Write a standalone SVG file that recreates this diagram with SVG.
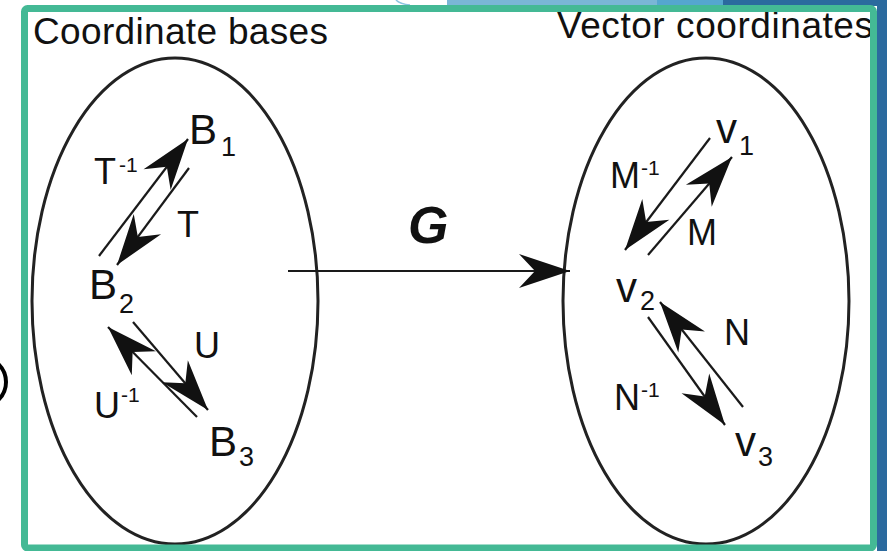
<svg xmlns="http://www.w3.org/2000/svg" width="887" height="551" viewBox="0 0 887 551">
  <style>
    .lbl { font-family: "Liberation Sans", Arial, sans-serif; fill: #111; }
    .big { font-size: 42px; }
    .sub { font-size: 27px; }
    .op { font-size: 36px; }
    .sup { font-size: 21px; }
    .title { font-size: 37px; }
    .set { fill: none; stroke: #222; stroke-width: 3; }
    .conn { stroke: #1a1a1a; stroke-width: 2.2; fill: none; marker-end: url(#ah); }
  </style>
  <defs>
    <marker id="ah" markerUnits="userSpaceOnUse" viewBox="-54 -20 56 40" refX="0" refY="0" markerWidth="56" markerHeight="40" orient="auto">
      <path d="M0,0 L-51,-17 L-35,0 L-51,17 Z" fill="#111"/>
    </marker>
  </defs>
  <!-- background -->
  <rect x="0" y="0" width="887" height="551" fill="#ffffff"/>
  <g id="backdrop">
    <rect x="447" y="0" width="210" height="6" fill="#7ab6d6"/>
    <rect x="657" y="0" width="66" height="6" fill="#55a6cf"/>
    <rect x="723" y="0" width="164" height="6" fill="#2b6a9e"/>
    <rect x="877" y="0" width="10" height="551" fill="#2b6a9e"/>
    <path d="M396,0 Q400,4 410,5" fill="none" stroke="#8cc3e0" stroke-width="1.5"/>
    <circle cx="-19" cy="382" r="25" fill="none" stroke="#000" stroke-width="4"/>
  </g>
  <!-- sets -->
  <g id="set-bases">
    <ellipse class="set" cx="175" cy="301" rx="143" ry="243"/>
    <text class="lbl title" x="33" y="44" textLength="295" lengthAdjust="spacing">Coordinate bases</text>
  </g>
  <g id="set-vectors">
    <ellipse class="set" cx="706" cy="301" rx="143" ry="243"/>
    <text class="lbl title" x="557" y="38" textLength="316" lengthAdjust="spacing">Vector coordinates</text>
  </g>
  <!-- nodes -->
  <g id="B1"><text class="lbl big" x="189" y="144">B</text><text class="lbl sub" x="221" y="156">1</text></g>
  <g id="B2"><text class="lbl big" x="89" y="299">B</text><text class="lbl sub" x="119" y="313">2</text></g>
  <g id="B3"><text class="lbl big" x="209" y="456">B</text><text class="lbl sub" x="239" y="466">3</text></g>
  <g id="v1"><text class="lbl big" x="716" y="143">v</text><text class="lbl sub" x="739" y="155">1</text></g>
  <g id="v2"><text class="lbl big" x="616" y="302">v</text><text class="lbl sub" x="640" y="310">2</text></g>
  <g id="v3"><text class="lbl big" x="735" y="456">v</text><text class="lbl sub" x="758" y="466">3</text></g>
  <!-- connectors -->
  <g id="connectors">
    <line class="conn" x1="99" y1="256" x2="188" y2="139"/>
    <line class="conn" x1="189" y1="168" x2="117" y2="265"/>
    <line class="conn" x1="197" y1="417" x2="108" y2="327"/>
    <line class="conn" x1="133" y1="322" x2="208" y2="410"/>
    <line class="conn" x1="710" y1="138" x2="625" y2="250"/>
    <line class="conn" x1="648" y1="255" x2="732" y2="157"/>
    <line class="conn" x1="743" y1="407" x2="660" y2="302"/>
    <line class="conn" x1="648" y1="317" x2="725" y2="425"/>
    <line class="conn" x1="288" y1="271" x2="570" y2="271"/>
  </g>
  <g id="connector-labels">
    <text class="lbl op" x="94" y="184">T</text><text class="lbl sup" x="119" y="172">-1</text>
    <text class="lbl op" x="177" y="237">T</text>
    <text class="lbl op" x="194" y="358">U</text>
    <text class="lbl op" x="94" y="418">U</text><text class="lbl sup" x="121" y="402">-1</text>
    <text class="lbl op" x="610" y="188">M</text><text class="lbl sup" x="641" y="175">-1</text>
    <text class="lbl op" x="687" y="245">M</text>
    <text class="lbl op" x="614" y="410">N</text><text class="lbl sup" x="641" y="397">-1</text>
    <text class="lbl op" x="724" y="345">N</text>
    <text class="lbl" x="408" y="243" font-size="52" font-weight="bold" font-style="italic">G</text>
  </g>
  <!-- frame -->
  <rect x="24.5" y="8.5" width="849" height="539.5" rx="3" fill="none" stroke="#44b995" stroke-width="7"/>
</svg>
